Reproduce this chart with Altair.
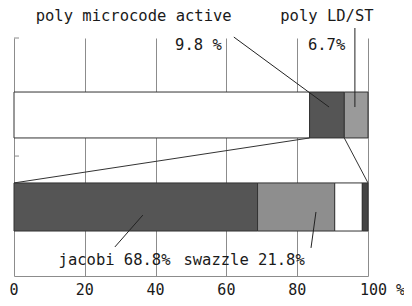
import altair as alt
import pandas as pd

# ---- data ----
top_names = ["rest", "poly microcode active", "poly LD/ST"]
top_values = [83.5, 9.8, 6.7]
top_fills = ["#ffffff", "#555555", "#9a9a9a"]

bot_names = ["jacobi", "swazzle", "rest", "misc"]
bot_values = [68.8, 21.8, 7.8, 1.6]
bot_fills = ["#555555", "#8e8e8e", "#ffffff", "#444444"]

tick_values = [0, 20, 40, 60, 80, 100]
tick_labels = ["0", "20", "40", "60", "80", "100 %"]

ann_texts = ["poly microcode active", "9.8 %", "poly LD/ST", "6.7%",
             "jacobi 68.8%", "swazzle 21.8%"]
ann_x = [33.8, 52.1, 88.4, 88.3, 28.4, 65.0]
ann_y = [1.092, 0.971, 1.092, 0.971, 0.067, 0.067]

leader_x = [62.1, 96.3, 28.5, 83.9]
leader_y = [1.004, 1.042, 0.122, 0.118]
leader_x2 = [89.0, 96.3, 36.4, 85.3]
leader_y2 = [0.710, 0.710, 0.256, 0.269]

# bar vertical extents (axis units)
TOP_Y = (0.580, 0.773)
BOT_Y = (0.189, 0.391)
cat_ticks = [0.504, 1.0]

FONT = "DejaVu Sans Mono"
GRID = "#8c8c8c"


def segs(names, values, fills, y0, y1):
    rows = []
    s = 0.0
    for n, v, f in zip(names, values, fills):
        rows.append({"name": n, "start": s, "end": s + v, "y0": y0, "y1": y1, "fill": f})
        s += v
    return rows


seg = pd.DataFrame(segs(top_names, top_values, top_fills, *TOP_Y)
                   + segs(bot_names, bot_values, bot_fills, *BOT_Y))

# zoom connector lines from the microcode segment to the lower bar
mc = seg[(seg["name"] == "poly microcode active")].iloc[0]
zoom = pd.DataFrame({
    "x": [mc["start"], mc["end"]],
    "y": [TOP_Y[0], TOP_Y[0]],
    "x2": [0.0, sum(bot_values)],
    "y2": [BOT_Y[1], BOT_Y[1]],
})

leaders = pd.DataFrame({"x": leader_x, "y": leader_y, "x2": leader_x2, "y2": leader_y2})
anns = pd.DataFrame({"t": ann_texts, "x": ann_x, "y": ann_y})
ticks_df = pd.DataFrame({"v": tick_values, "t": tick_labels, "y": [-0.058] * len(tick_values)})
cat_df = pd.DataFrame({"y": cat_ticks})

xs = alt.Scale(domain=[0, 100], nice=False, zero=False)
ys = alt.Scale(domain=[0, 1], nice=False, zero=False)
xax = alt.Axis(values=[20, 40, 60, 80, 100], grid=True, gridColor=GRID,
               gridOpacity=1, labels=False, ticks=False, domainColor=GRID, title=None)
yax = alt.Axis(labels=False, ticks=False, grid=False, domainColor=GRID, title=None)


def X(f):
    return alt.X(f, scale=xs, axis=xax)


def Y(f):
    return alt.Y(f, scale=ys, axis=yax)


bars = alt.Chart(seg).mark_rect(stroke="#333333", strokeWidth=1).encode(
    x=X("start:Q"), x2="end:Q", y=Y("y0:Q"), y2="y1:Q",
    fill=alt.Fill("fill:N", scale=None),
)

zoom_lines = alt.Chart(zoom).mark_rule(color="#333333", strokeWidth=1).encode(
    x=X("x:Q"), y=Y("y:Q"), x2="x2:Q", y2="y2:Q")

leader_lines = alt.Chart(leaders).mark_rule(color="#222222", strokeWidth=1).encode(
    x=X("x:Q"), y=Y("y:Q"), x2="x2:Q", y2="y2:Q")

cat_tick_marks = alt.Chart(cat_df).mark_rule(color=GRID, strokeWidth=1).encode(
    x=alt.value(0), x2=alt.value(5), y=Y("y:Q"))

ann_text = alt.Chart(anns).mark_text(font=FONT, fontSize=15.5, color="#1a1a1a",
                                     align="center", baseline="middle").encode(
    x=X("x:Q"), y=Y("y:Q"), text="t:N")

xlab = alt.Chart(ticks_df).transform_filter("datum.v < 100").mark_text(
    font=FONT, fontSize=15, color="#1a1a1a", align="center", baseline="middle").encode(
    x=X("v:Q"), y=Y("y:Q"), text="t:N")

xlab_last = alt.Chart(ticks_df).transform_filter("datum.v == 100").mark_text(
    font=FONT, fontSize=15, color="#1a1a1a", align="left", baseline="middle", dx=-8).encode(
    x=X("v:Q"), y=Y("y:Q"), text="t:N")

chart = alt.layer(bars, zoom_lines, leader_lines, cat_tick_marks, ann_text, xlab, xlab_last).properties(
    width=354, height=238,
    autosize=alt.AutoSizeParams(type="none"),
    padding={"left": 6, "top": 30, "right": 36, "bottom": 22},
    background="white",
).configure_view(stroke=None)

chart.save("out.html", embed_options={"renderer": "svg", "actions": False})
